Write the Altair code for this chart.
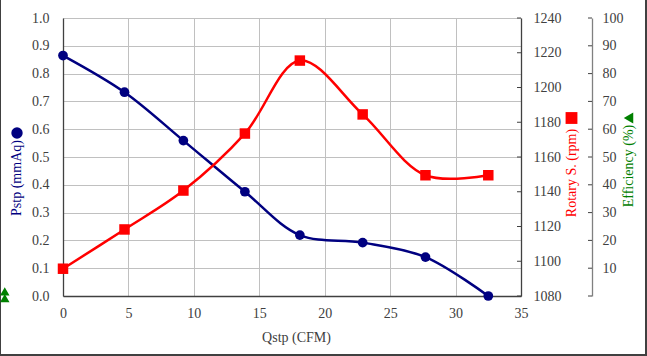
import altair as alt
import pandas as pd

# ---- data ----
qstp = [0.0, 4.7, 9.2, 13.9, 18.1, 22.9, 27.7, 32.5]
pstp = [0.865, 0.733, 0.559, 0.375, 0.219, 0.192, 0.140, 0.0]
rpm = [1095.7, 1118.3, 1140.7, 1173.5, 1215.5, 1184.5, 1149.5, 1149.5]
eff_q = [-4.45, -4.45]
eff = [1.7, -0.8]

x_ticks = [0, 5, 10, 15, 20, 25, 30, 35]
p_ticks = [0.0, 0.1, 0.2, 0.3, 0.4, 0.5, 0.6, 0.7, 0.8, 0.9, 1.0]
rpm_ticks = [1080, 1100, 1120, 1140, 1160, 1180, 1200, 1220, 1240]
eff_ticks = [0, 10, 20, 30, 40, 50, 60, 70, 80, 90, 100]

W, H = 458, 278
FONT = "Times New Roman, Liberation Serif, DejaVu Serif, serif"
NAVY, RED, GREEN, DARK = "#000080", "#FF0000", "#008000", "#404040"
GRID = "#c0c0c0"

TXT = dict(labelFont=FONT, labelFontSize=14, labelColor=DARK, domainWidth=1.3,
           labelFlush=False, labelOverlap=False)

main = pd.DataFrame({"q": qstp, "p": pstp, "rpm": rpm})
effdf = pd.DataFrame({"q": eff_q, "e": eff})
one = pd.DataFrame({"k": [0]})

xenc = alt.X(
    "q:Q",
    scale=alt.Scale(domain=[0, 35], nice=False),
    axis=alt.Axis(
        values=x_ticks, grid=True, gridColor=GRID, ticks=False, tickSize=0,
        labelPadding=10, domainColor=DARK, title="Qstp (CFM)",
        titleX=233, titleY=45, titleBaseline="alphabetic", titleColor=DARK,
        titleFontWeight="normal", titleFont=FONT, titleFontSize=14, **TXT,
    ),
)

# ---- Pstp (left axis) ----
p_axis = alt.Axis(
    orient="left", values=p_ticks, format=".1f", grid=True, gridColor=GRID,
    ticks=False, tickSize=0, labelPadding=14, domainColor=DARK, title=None, **TXT,
)
p_y = alt.Y("p:Q", scale=alt.Scale(domain=[0, 1], nice=False, zero=False), axis=p_axis)
p_base = alt.Chart(main).encode(x=xenc, y=p_y)
p_layer = alt.layer(
    p_base.mark_line(color=NAVY, strokeWidth=2.5, interpolate="catmull-rom"),
    p_base.mark_point(shape="circle", filled=True, size=95, color=NAVY, opacity=1),
)

# ---- Rotary speed (right axis) ----
r_axis = alt.Axis(
    orient="right", values=rpm_ticks, format="d", grid=False, ticks=False, tickSize=0,
    labelPadding=12, domainColor=DARK, title=None, **TXT,
)
r_scale = alt.Scale(domain=[1080, 1240], nice=False, zero=False)
r_base = alt.Chart(main).encode(x=xenc, y=alt.Y("rpm:Q", scale=r_scale, axis=r_axis))
r_ticks = alt.Chart(pd.DataFrame({"rpm": rpm_ticks})).mark_rule(color=DARK, strokeWidth=1).encode(
    y=alt.Y("rpm:Q", scale=r_scale, axis=r_axis), x=alt.value(W - 4), x2=alt.value(W)
)
r_layer = alt.layer(
    r_base.mark_line(color=RED, strokeWidth=2.5, interpolate="catmull-rom"),
    r_base.mark_point(shape="square", filled=True, size=110, color=RED, opacity=1),
    r_ticks,
)

# ---- Efficiency (second right axis) ----
e_axis = alt.Axis(
    orient="right", offset=71, values=eff_ticks, format="d", grid=False, ticks=False,
    tickSize=0, labelPadding=10, domainColor="#808080", title=None,
    labelExpr="datum.value == 0 ? '' : datum.label", **TXT,
)
e_scale = alt.Scale(domain=[0, 100], nice=False, zero=False)
e_pts = alt.Chart(effdf).mark_point(
    shape="triangle-up", filled=True, size=90, color=GREEN, opacity=1
).encode(x=xenc, y=alt.Y("e:Q", scale=e_scale, axis=e_axis))
e_ticks = alt.Chart(pd.DataFrame({"e": eff_ticks})).mark_rule(color=DARK, strokeWidth=1).encode(
    y=alt.Y("e:Q", scale=e_scale, axis=e_axis), x=alt.value(W + 67), x2=alt.value(W + 71)
)
e_layer = alt.layer(e_pts, e_ticks)

# ---- frame, rotated axis titles and their markers ----
frame = alt.Chart(one).mark_rect(
    fill="white", fillOpacity=0, stroke=DARK, strokeWidth=2
).encode(x=alt.value(-63), x2=alt.value(583), y=alt.value(-22), y2=alt.value(337))


def vtitle(text, color, x, y):
    return alt.Chart(one).mark_text(
        text=text, angle=270, align="center", baseline="middle",
        font=FONT, fontSize=14, color=color,
    ).encode(x=alt.value(x), y=alt.value(y))


def glyph(shape, color, x, y, size):
    return alt.Chart(one).mark_point(
        shape=shape, filled=True, color=color, size=size, opacity=1
    ).encode(x=alt.value(x), y=alt.value(y))


deco = alt.layer(
    vtitle("Pstp (mmAq)", NAVY, -46, 160),
    glyph("circle", NAVY, -46, 115, 130),
    vtitle("Rotary S. (rpm)", RED, 508.5, 155),
    glyph("square", RED, 508.5, 100, 140),
    vtitle("Efficiency (%)", GREEN, 565.5, 148),
    glyph("triangle-left", GREEN, 565.5, 100, 120),
)

chart = (
    alt.layer(frame, p_layer, r_layer, e_layer, deco)
    .resolve_scale(y="independent")
    .properties(
        width=W, height=H,
        padding={"left": 63, "top": 18, "right": 126, "bottom": 60},
        autosize=alt.AutoSizeParams(type="none"),
        background="white",
    )
    .configure_view(strokeWidth=0)
    .configure_axis(
        labelFont=FONT, labelFontSize=14, labelColor=DARK,
        titleFont=FONT, titleFontSize=14, domainWidth=1.3,
    )
)

chart.save("out.html", embed_options={"renderer": "svg", "actions": False})
